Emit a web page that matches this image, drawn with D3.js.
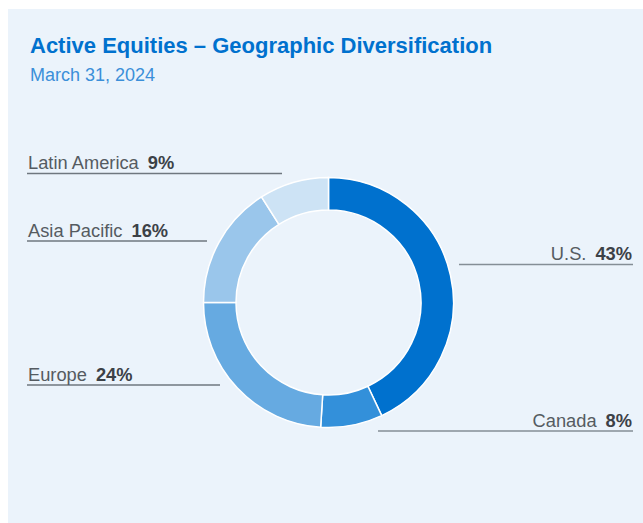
<!DOCTYPE html>
<html>
<head>
<meta charset="utf-8">
<script src="https://cdn.jsdelivr.net/npm/d3@7"></script>
<style>
  html, body { margin: 0; padding: 0; background: #ffffff; }
  svg { display: block; }
</style>
</head>
<body>
<svg id="chart" width="643" height="523"></svg>
<script>
// Regional weights, clockwise from 12 o'clock
const regions = ["U.S.", "Canada", "Europe", "Asia Pacific", "Latin America"];
const weights = [43, 8, 24, 16, 9];
const sliceColors = ["#0071ce", "#3390da", "#66aae1", "#9ac6eb", "#cde3f5"];

const titleText = "Active Equities \u2013 Geographic Diversification";
const subtitleText = "March 31, 2024";

// Label placement: side, leader-line y, and the line's inner x end
const labelLayout = [
  { side: "right", lineY: 264.5, innerX: 459 },
  { side: "right", lineY: 431,   innerX: 378 },
  { side: "left",  lineY: 385,   innerX: 220 },
  { side: "left",  lineY: 241,   innerX: 207 },
  { side: "left",  lineY: 173.5, innerX: 282 }
];

const W = 643, H = 523;
const svg = d3.select("#chart");

// Panel background
svg.append("rect")
  .attr("x", 8).attr("y", 9)
  .attr("width", W - 8).attr("height", H - 9)
  .attr("fill", "#ebf3fb");

// Heading
svg.append("text")
  .attr("x", 30).attr("y", 53)
  .attr("font-family", "Liberation Sans, Arial, sans-serif")
  .attr("font-weight", "bold")
  .attr("font-size", 22)
  .attr("fill", "#0071ce")
  .text(titleText);

svg.append("text")
  .attr("x", 30).attr("y", 81)
  .attr("font-family", "Liberation Sans, Arial, sans-serif")
  .attr("font-size", 18)
  .attr("fill", "#3b8fd9")
  .text(subtitleText);

// Donut
const cx = 328.5, cy = 302.5;
const rOuter = 125, rInner = 92.5;

const pie = d3.pie().sort(null).value(d => d.value);
const arcs = pie(regions.map((r, i) => ({ name: r, value: weights[i], color: sliceColors[i] })));
const arc = d3.arc().innerRadius(rInner).outerRadius(rOuter);

const g = svg.append("g").attr("transform", `translate(${cx},${cy})`);
g.selectAll("path.slice")
  .data(arcs)
  .join("path")
  .attr("class", "slice")
  .attr("d", arc)
  .attr("fill", d => d.data.color)
  .attr("stroke", "#ffffff")
  .attr("stroke-width", 1.5);

// Labels with leader lines
const leftX = 27, rightX = 633;
const labels = svg.append("g")
  .attr("font-family", "Liberation Sans, Arial, sans-serif")
  .attr("font-size", 18.3);

arcs.forEach((d, i) => {
  const L = labelLayout[i];
  const x1 = L.side === "left" ? leftX : L.innerX;
  const x2 = L.side === "left" ? L.innerX : rightX;
  labels.append("line")
    .attr("x1", x1).attr("x2", x2)
    .attr("y1", L.lineY).attr("y2", L.lineY)
    .attr("stroke", L.side === "left" ? "#6f777f" : "#858e96")
    .attr("stroke-width", 1.5);

  const t = labels.append("text")
    .attr("x", L.side === "left" ? leftX + 1 : rightX - 1)
    .attr("y", L.lineY - 4.5)
    .attr("text-anchor", L.side === "left" ? "start" : "end");
  t.append("tspan")
    .attr("fill", "#555b61")
    .text(d.data.name);
  t.append("tspan")
    .attr("dx", 9)
    .attr("font-weight", "bold")
    .attr("fill", "#3c4147")
    .text(d3.format(".0f")(d.data.value) + "%");
});
</script>
</body>
</html>
